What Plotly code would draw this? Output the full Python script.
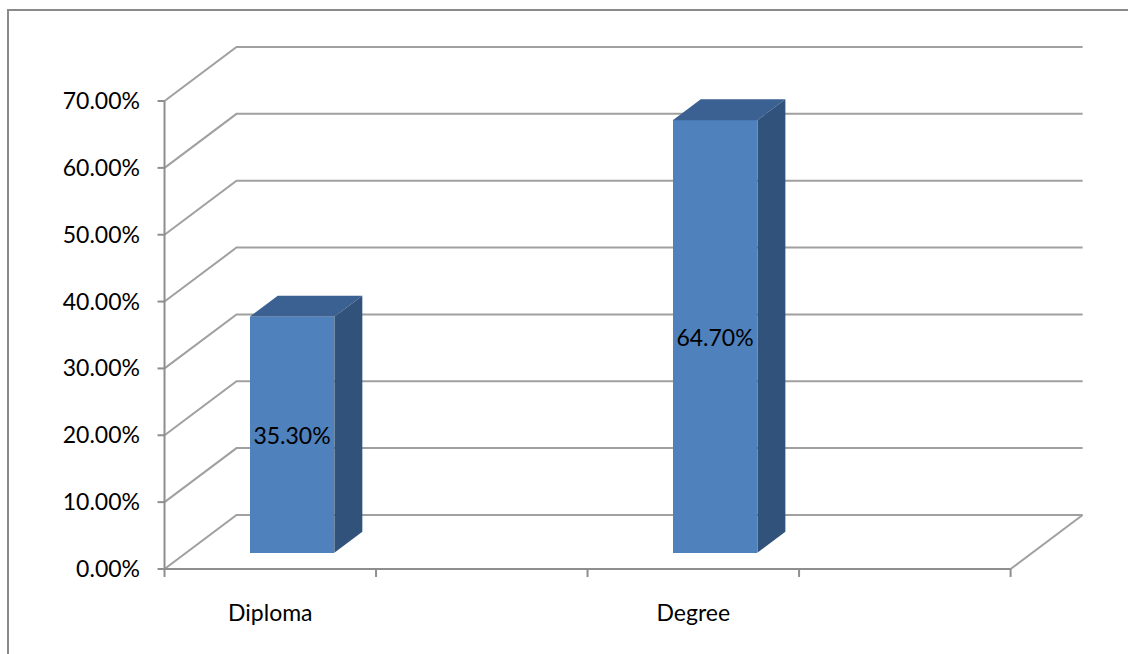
import plotly.graph_objects as go

# ---------------- data ----------------
categories = ["Diploma", "Degree"]
values = [35.3, 64.7]                      # percent
y_ticks = [0, 10, 20, 30, 40, 50, 60, 70]  # percent
x_slot_ticks = [0, 1, 2, 3, 4]             # category-axis tick marks (slot boundaries)
cat_positions = [0.5, 2.5]                 # slot centres of the two categories

# ---------------- style / geometry ----------------
FONT = "Lato"
FS = 23
DX, DY = 0.3404, 8.08          # oblique depth of the 3-D box (x in slots, y in %)
BAR_W = 0.40                   # bar width (slots)
BAR_FRONT = 0.302              # depth fraction where bar front sits
BAR_DEPTH = 0.389              # depth fraction the bar occupies
PX_SLOT, PX_PCT = 211.5, 6.686 # pixel scales
X0_PX, Y0_PX = 165, 569        # pixel position of (0, 0)
W, H = 1128, 654
GRID = "#a0a0a0"
AXIS = "#8e8e8e"
FRONT = "#4F81BD"
TOP = "#3B6193"
SIDE = "#30527B"

X_LO, X_HI = -0.045, 4 + DX + 0.035
Y_LO, Y_HI = -1.5, 70 + DY + 0.6

l = X0_PX + X_LO * PX_SLOT
pw = (X_HI - X_LO) * PX_SLOT
r = W - l - pw
bottom_px = Y0_PX - Y_LO * PX_PCT
ph = (Y_HI - Y_LO) * PX_PCT
b = H - bottom_px
t = bottom_px - ph

fig = go.Figure()

# bar front faces
bar_x = [p + BAR_FRONT * DX for p in cat_positions]
bar_base = [BAR_FRONT * DY for _ in values]
fig.add_trace(go.Bar(
    x=bar_x, y=values, base=bar_base, width=BAR_W,
    marker=dict(color=FRONT, line=dict(width=0)),
    text=[f"{v:.2f}%" for v in values],
    textposition="inside", insidetextanchor="middle", textangle=0,
    constraintext="none",
    textfont=dict(family=FONT, size=FS, color="black"),
    hoverinfo="skip", showlegend=False,
))

# top and side faces
bdx, bdy = BAR_DEPTH * DX, BAR_DEPTH * DY
for xc, base, v in zip(bar_x, bar_base, values):
    xl, xr = xc - BAR_W / 2, xc + BAR_W / 2
    top = base + v
    fig.add_trace(go.Scatter(
        x=[xl, xr, xr + bdx, xl + bdx, xl],
        y=[top, top, top + bdy, top + bdy, top],
        fill="toself", fillcolor=TOP, mode="lines", line=dict(width=0, color=TOP),
        hoverinfo="skip", showlegend=False))
    fig.add_trace(go.Scatter(
        x=[xr, xr, xr + bdx, xr + bdx, xr],
        y=[base, top, top + bdy, base + bdy, base],
        fill="toself", fillcolor=SIDE, mode="lines", line=dict(width=0, color=SIDE),
        hoverinfo="skip", showlegend=False))

shapes = []
last = x_slot_ticks[-1]
# back-wall gridlines with their diagonal on the side wall
for v in y_ticks:
    shapes.append(dict(type="path", xref="x", yref="y", layer="below",
                       path=f"M 0,{v} L {DX},{v + DY} L {last + DX},{v + DY}",
                       line=dict(color=GRID, width=2)))
# floor right edge
shapes.append(dict(type="line", xref="x", yref="y", layer="below",
                   x0=last, y0=0, x1=last + DX, y1=DY, line=dict(color=GRID, width=2)))
# front axes
shapes.append(dict(type="line", xref="x", yref="y", layer="below",
                   x0=0, y0=0, x1=last, y1=0, line=dict(color=AXIS, width=2)))
shapes.append(dict(type="line", xref="x", yref="y", layer="below",
                   x0=0, y0=0, x1=0, y1=y_ticks[-1], line=dict(color=AXIS, width=2)))
# tick marks
for v in y_ticks:
    shapes.append(dict(type="line", xref="x", yref="y", layer="below",
                       x0=-7 / PX_SLOT, y0=v, x1=0, y1=v, line=dict(color=AXIS, width=2)))
for s in x_slot_ticks:
    shapes.append(dict(type="line", xref="x", yref="y", layer="below",
                       x0=s, y0=0, x1=s, y1=-8 / PX_PCT, line=dict(color=AXIS, width=2)))
# chart border
shapes.append(dict(type="rect", xref="paper", yref="paper",
                   x0=(8.5 - l) / pw, x1=(1200 - l) / pw,
                   y0=(bottom_px - 700) / ph, y1=(bottom_px - 10) / ph,
                   line=dict(color="#8a8a8a", width=2), fillcolor="rgba(0,0,0,0)"))

fig.update_layout(
    width=W, height=H,
    margin=dict(l=l, r=r, t=t, b=b, pad=0),
    paper_bgcolor="white", plot_bgcolor="white",
    font=dict(family=FONT, size=FS, color="black"),
    shapes=shapes,
    bargap=0,
    showlegend=False,
    xaxis=dict(range=[X_LO, X_HI], tickvals=cat_positions, ticktext=categories,
               showgrid=False, zeroline=False, showline=False, ticks="",
               ticklabelstandoff=18, automargin=False, fixedrange=True),
    yaxis=dict(range=[Y_LO, Y_HI], tickvals=y_ticks,
               ticktext=[f"{v:.2f}%" for v in y_ticks],
               showgrid=False, zeroline=False, showline=False, ticks="",
               ticklabelstandoff=14, automargin=False, fixedrange=True),
)

fig.write_html("out.html", config={"displayModeBar": False})
